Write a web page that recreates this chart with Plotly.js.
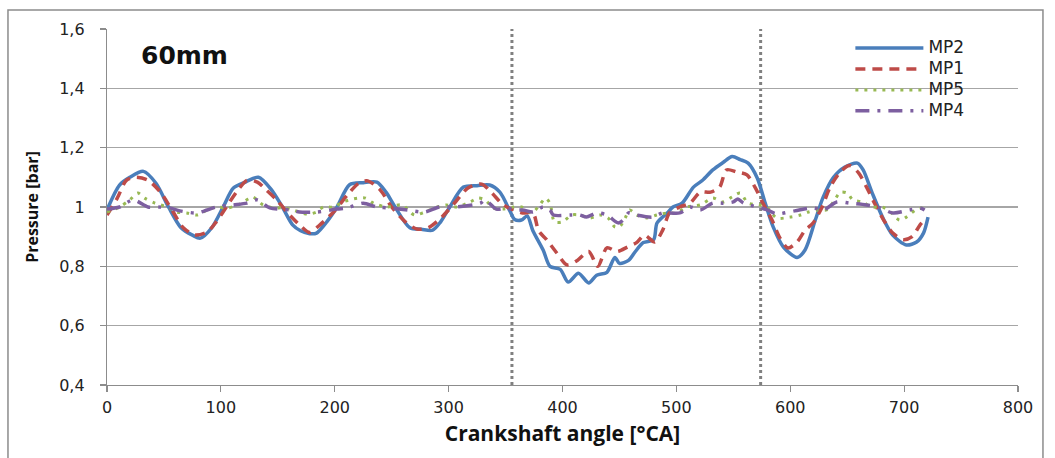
<!DOCTYPE html>
<html>
<head>
<meta charset="utf-8">
<script src="https://cdn.plot.ly/plotly-3.0.1.min.js"></script>
<style>
html,body{margin:0;padding:0;background:#fff;}
#chart{width:1055px;height:458px;}
</style>
</head>
<body>
<div id="chart"></div>
<script>
// Crank angle [°CA] and pressure [bar]
const mp2X = [0, 11, 20, 32, 43, 54, 65, 75, 82, 92, 102, 111, 122, 133, 144, 154, 163, 170, 178, 184, 193, 202, 213, 225, 237, 245, 253, 266, 276, 286, 293, 301, 313, 325, 336, 345, 354, 358, 364, 369, 374, 383, 389, 398, 405, 414, 423, 430, 439, 446, 450, 458, 464, 471, 480, 483, 492, 497, 505, 515, 523, 532, 541, 549, 556, 563, 571, 578, 585, 594, 606, 613, 622, 629, 638, 648, 659, 664, 672, 681, 690, 702, 711, 717, 721];
const mp2Y = [0.99, 1.074, 1.10, 1.12, 1.08, 1.0, 0.93, 0.905, 0.895, 0.93, 1.0, 1.064, 1.085, 1.10, 1.06, 1.0, 0.94, 0.92, 0.91, 0.912, 0.95, 1.0, 1.075, 1.082, 1.084, 1.05, 1.0, 0.93, 0.925, 0.922, 0.95, 1.0, 1.067, 1.072, 1.074, 1.05, 0.985, 0.958, 0.956, 0.97, 0.92, 0.855, 0.80, 0.79, 0.747, 0.777, 0.744, 0.77, 0.78, 0.83, 0.81, 0.82, 0.85, 0.88, 0.89, 0.946, 0.98, 1.0, 1.013, 1.067, 1.09, 1.125, 1.15, 1.17, 1.16, 1.148, 1.098, 1.013, 0.933, 0.865, 0.83, 0.855, 0.956, 1.034, 1.10, 1.135, 1.148, 1.125, 1.047, 0.966, 0.905, 0.872, 0.882, 0.912, 0.966];

const mp1X = [0, 9, 17, 25, 36, 47, 57, 67, 77, 88, 96, 106, 115, 123, 132, 140, 149, 158, 169, 178, 187, 199, 211, 221, 229, 240, 250, 262, 272, 282, 294, 306, 317, 329, 338, 348, 357, 365, 374, 379, 386, 395, 404, 413, 423, 431, 439, 448, 457, 465, 472, 481, 488, 494, 503, 512, 521, 530, 538, 544, 553, 562, 569, 576, 584, 591, 598, 606, 613, 620, 628, 635, 644, 652, 660, 667, 674, 682, 690, 699, 707, 714, 718];
const mp1Y = [0.973, 1.03, 1.09, 1.10, 1.09, 1.05, 0.99, 0.93, 0.906, 0.916, 0.95, 1.007, 1.057, 1.09, 1.084, 1.057, 1.024, 0.983, 0.94, 0.914, 0.94, 0.983, 1.04, 1.08, 1.088, 1.057, 1.0, 0.95, 0.926, 0.93, 0.966, 1.017, 1.064, 1.077, 1.047, 1.007, 0.99, 0.98, 0.98, 0.92, 0.89, 0.845, 0.805, 0.82, 0.85, 0.80, 0.862, 0.85, 0.865, 0.88, 0.905, 0.882, 0.922, 0.98, 1.0, 1.013, 1.05, 1.05, 1.067, 1.125, 1.118, 1.108, 1.067, 1.013, 0.956, 0.895, 0.862, 0.882, 0.922, 0.946, 1.0, 1.067, 1.118, 1.14, 1.115, 1.067, 1.013, 0.956, 0.912, 0.89, 0.9, 0.94, 0.956];

const mp5X = [0, 11, 20, 27, 33, 42, 53, 61, 70, 79, 88, 96, 106, 115, 124, 128, 137, 146, 155, 163, 176, 184, 190, 199, 207, 220, 227, 234, 246, 259, 270, 279, 290, 298, 307, 319, 326, 332, 339, 348, 357, 364, 373, 380, 385, 389, 393, 400, 408, 415, 424, 433, 440, 446, 450, 455, 459, 465, 474, 483, 492, 500, 509, 521, 532, 541, 549, 556, 563, 573, 580, 588, 600, 609, 616, 624, 632, 638, 644, 650, 655, 663, 672, 681, 688, 696, 702, 710, 717];
const mp5Y = [0.983, 1.0, 1.024, 1.047, 1.03, 1.013, 1.0, 0.983, 0.98, 0.973, 0.99, 1.0, 0.997, 1.007, 1.027, 1.034, 1.007, 0.997, 0.997, 0.99, 0.976, 0.983, 1.0, 1.0, 1.017, 1.03, 1.03, 1.013, 1.0, 1.007, 0.973, 0.983, 1.0, 1.007, 1.0, 1.017, 1.03, 1.024, 0.997, 0.993, 1.0, 1.0, 0.98, 1.007, 1.03, 1.013, 0.95, 0.95, 0.973, 0.973, 0.963, 0.973, 0.963, 0.933, 0.933, 0.963, 0.99, 0.973, 0.963, 0.973, 0.98, 0.98, 1.0, 1.007, 1.03, 1.017, 1.034, 1.047, 1.013, 1.007, 0.997, 0.963, 0.966, 0.973, 0.983, 0.99, 0.99, 1.017, 1.05, 1.047, 1.024, 1.017, 1.0, 1.0, 0.983, 0.956, 0.966, 0.99, 0.997];

const mp4X = [0, 11, 23, 36, 45, 55, 64, 79, 88, 96, 111, 123, 132, 143, 161, 169, 184, 202, 211, 225, 237, 248, 264, 279, 292, 307, 328, 332, 342, 351, 357, 365, 374, 383, 389, 392, 407, 415, 421, 430, 439, 449, 455, 458, 465, 479, 488, 503, 512, 521, 532, 541, 550, 554, 559, 571, 580, 588, 604, 620, 629, 641, 652, 667, 679, 690, 705, 714, 718];
const mp4Y = [0.993, 1.0, 1.024, 1.0, 1.0, 0.997, 0.987, 0.98, 0.99, 1.0, 1.007, 1.013, 1.024, 0.997, 0.99, 0.983, 0.983, 0.993, 0.997, 1.013, 1.0, 0.997, 0.99, 0.983, 1.0, 1.0, 1.013, 1.024, 0.993, 0.997, 0.99, 0.99, 0.983, 1.0, 0.99, 0.973, 0.973, 0.973, 0.966, 0.98, 0.973, 0.946, 0.963, 0.98, 0.973, 0.966, 0.98, 0.98, 1.0, 0.99, 1.013, 1.013, 1.017, 1.027, 1.013, 1.0, 0.99, 0.977, 0.987, 0.997, 0.99, 1.017, 1.013, 1.007, 0.997, 0.98, 0.99, 0.997, 0.99];

const seriesNames = ["MP2", "MP1", "MP5", "MP4"];
const markerLines = [355.6, 574];   // vertical dotted reference lines [°CA]
const xTicks = [0, 100, 200, 300, 400, 500, 600, 700, 800];
const yTicks = [0.4, 0.6, 0.8, 1.0, 1.2, 1.4, 1.6];
const caseLabel = "60mm";

const legendName = n => '<span style="font-size:17px">' + n + '</span>';

const traces = [
  {x: mp2X, y: mp2Y, name: legendName(seriesNames[0]), mode: "lines",
   line: {color: "#4A7EBB", width: 3.5, shape: "spline", smoothing: 0.8}},
  {x: mp1X, y: mp1Y, name: legendName(seriesNames[1]), mode: "lines",
   line: {color: "#BE4B48", width: 3.5, dash: "10px,7px", shape: "spline", smoothing: 0.8}},
  {x: mp5X, y: mp5Y, name: legendName(seriesNames[2]), mode: "lines",
   line: {color: "#98B954", width: 3, dash: "3px,6px", shape: "spline", smoothing: 0.8}},
  {x: mp4X, y: mp4Y, name: legendName(seriesNames[3]), mode: "lines",
   line: {color: "#7D5FA0", width: 3.5, dash: "14px,8px,3px,8px", shape: "spline", smoothing: 0.8}}
];

const shapes = markerLines.map(v => ({
  type: "line", xref: "x", yref: "paper", x0: v, x1: v, y0: 0, y1: 1,
  line: {color: "#808080", width: 3, dash: "dot"}, layer: "below"
}));
shapes.push({
  type: "rect", xref: "paper", yref: "paper",
  x0: -0.1087, x1: 1.0274, y0: -0.25, y1: 1.0534,
  line: {color: "#8c8c8c", width: 1.5}
});

const layout = {
  width: 1055, height: 458,
  margin: {l: 107, r: 37, t: 29, b: 73, pad: 0},
  paper_bgcolor: "#ffffff", plot_bgcolor: "#ffffff",
  separators: ",.",
  showlegend: true,
  legend: {x: 0.816, y: 0.99, xanchor: "left", yanchor: "top",
           font: {family: "DejaVu Sans", size: 13.8, color: "#222"},
           bgcolor: "rgba(0,0,0,0)", tracegroupgap: 0, itemwidth: 68},
  xaxis: {
    range: [0, 800], tickvals: xTicks, ticktext: xTicks.map(String),
    showgrid: false, zeroline: false,
    showline: true, linecolor: "#8c8c8c", linewidth: 1.2,
    ticks: "outside", ticklen: 6, tickcolor: "#8c8c8c", tickwidth: 1.2,
    ticklabelstandoff: 2,
    tickfont: {family: "DejaVu Sans", size: 16, color: "#222"},
    title: {text: "Crankshaft angle [°CA]", standoff: 9,
            font: {family: "Open Sans", size: 21, color: "#111", weight: "bold"}}
  },
  yaxis: {
    range: [0.4, 1.6], tickvals: yTicks,
    ticktext: yTicks.map(v => (Math.round(v * 10) / 10).toString().replace(".", ",")),
    showgrid: true, gridcolor: "#a6a6a6", gridwidth: 1.2, zeroline: false,
    showline: true, linecolor: "#8c8c8c", linewidth: 1.2,
    ticks: "outside", ticklen: 6, tickcolor: "#8c8c8c", tickwidth: 1.2,
    ticklabelstandoff: 12,
    tickfont: {family: "DejaVu Sans", size: 16, color: "#222"},
    title: {text: "Pressure [bar]", standoff: 16,
            font: {family: "Open Sans", size: 16, color: "#111", weight: "bold"}}
  },
  shapes: shapes,
  annotations: [{
    text: "<b>" + caseLabel + "</b>", xref: "paper", yref: "paper",
    x: 0.035, y: 0.925, xanchor: "left", yanchor: "middle", showarrow: false,
    font: {family: "DejaVu Sans", size: 25, color: "#111"}
  }]
};

Plotly.newPlot("chart", traces, layout, {staticPlot: true, displayModeBar: false});
</script>
</body>
</html>
